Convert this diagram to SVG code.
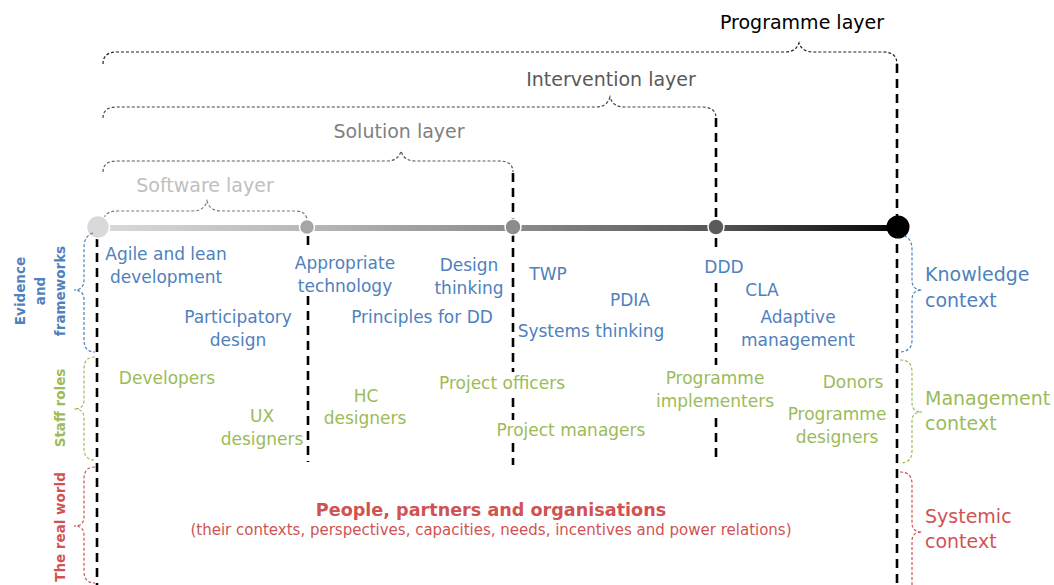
<svg xmlns="http://www.w3.org/2000/svg" width="1054" height="585" viewBox="0 0 1054 585">
<style>
text{font-family:"DejaVu Sans","Liberation Sans",sans-serif}
.t{font-size:17px;text-anchor:middle}
.lay{font-size:19px;text-anchor:middle}
.side{font-size:19px}
.rot{font-size:13.5px;font-weight:bold;text-anchor:middle}
.blue{fill:#4f81bd}
.green{fill:#9bbb59}
.red{fill:#d05353}
.brace{fill:none;stroke-width:1.2;stroke-dasharray:3 2}
.vl{fill:none;stroke:#000;stroke-width:2.6;stroke-dasharray:9 6}
.bg{fill:#fff}
.dot{stroke:#fff;stroke-width:1.5}
</style>
<defs>
<linearGradient id="bar" gradientUnits="userSpaceOnUse" x1="98" y1="0" x2="898" y2="0">
<stop offset="0" stop-color="#dadada"/>
<stop offset="0.26" stop-color="#b8b8b8"/>
<stop offset="0.52" stop-color="#8c8c8c"/>
<stop offset="0.77" stop-color="#565656"/>
<stop offset="1" stop-color="#050505"/>
</linearGradient>
</defs>

<g id="layer-programme">
<path class="brace" stroke="#222" d="M 103 64 Q 103 52 117 52 L 785 52 C 792 52 797 49 799 43 C 801 49 806 52 813 52 L 883 52 Q 897 52 897 64"/>
<text class="lay" x="802" y="29" fill="#000">Programme layer</text>
</g>
<g id="layer-intervention">
<path class="brace" stroke="#444" d="M 103 118 Q 103 107 117 107 L 596 107 C 603 107 608 104 610 97 C 612 104 617 107 624 107 L 702 107 Q 716 107 716 118"/>
<text class="lay" x="611" y="86" fill="#595959">Intervention layer</text>
</g>
<g id="layer-solution">
<path class="brace" stroke="#5a5a5a" d="M 103 172 Q 103 161 117 161 L 387 161 C 394 161 399 158 401 151 C 403 158 408 161 415 161 L 499 161 Q 513 161 513 172"/>
<text class="lay" x="399" y="138" fill="#7f7f7f">Solution layer</text>
</g>
<g id="layer-software">
<path class="brace" stroke="#7a7a7a" d="M 104 218 Q 106 211 118 211 L 193 211 C 200 211 205 208 207 201 C 209 208 214 211 221 211 L 296 211 Q 305 211 307 219"/>
<text class="lay" x="205" y="192" fill="#bfbfbf">Software layer</text>
</g>

<g id="connectors">
<line class="vl" x1="97" y1="238" x2="97" y2="585"/>
<line class="vl" x1="308" y1="236" x2="308" y2="462"/>
<line class="vl" x1="513" y1="173" x2="513" y2="465"/>
<line class="vl" x1="716" y1="118" x2="716" y2="462"/>
<line class="vl" x1="897" y1="64" x2="897" y2="585"/>
</g>

<g id="timeline">
<line x1="98" y1="228" x2="898" y2="228" stroke="url(#bar)" stroke-width="6"/>
<circle class="dot" cx="98" cy="227" r="11.5" fill="#d9d9d9"/>
<circle class="dot" cx="307" cy="227" r="7.5" fill="#a6a6a6"/>
<circle class="dot" cx="513" cy="227" r="8" fill="#8c8c8c"/>
<circle class="dot" cx="716" cy="227" r="8" fill="#5a5a5a"/>
<circle cx="898" cy="227" r="11.5" fill="#000"/>
</g>

<g id="left-evidence">
<path class="brace" stroke="#4f81bd" d="M 93 233 Q 84 236 84 248 L 84 280 Q 84 290 74 290 Q 84 290 84 300 L 84 340 Q 84 352 95 352"/>
<text class="rot blue" transform="translate(25,291) rotate(-90)">Evidence</text>
<text class="rot blue" transform="translate(45,291) rotate(-90)">and</text>
<text class="rot blue" transform="translate(65,291) rotate(-90)">frameworks</text>
</g>
<g id="left-staff">
<path class="brace" stroke="#9bbb59" d="M 95 357 Q 84 357 84 369 L 84 400 Q 84 409 74 409 Q 84 409 84 418 L 84 448 Q 84 460 95 460"/>
<text class="rot green" transform="translate(65,408) rotate(-90)">Staff roles</text>
</g>
<g id="left-real">
<path class="brace" stroke="#d05353" d="M 95 467 Q 84 467 84 479 L 84 517 Q 84 526 74 526 Q 84 526 84 535 L 84 571 Q 84 583 95 583"/>
<text class="rot red" transform="translate(65,527) rotate(-90)">The real world</text>
</g>

<g id="right-knowledge">
<path class="brace" stroke="#4f81bd" d="M 904 236 Q 912 238 912 250 L 912 280 Q 912 290 922 290 Q 912 290 912 300 L 912 340 Q 912 352 899 352"/>
<text class="side blue" x="925" y="281">Knowledge</text>
<text class="side blue" x="925" y="307">context</text>
</g>
<g id="right-management">
<path class="brace" stroke="#9bbb59" d="M 900 360 Q 912 360 912 372 L 912 403 Q 912 412 922 412 Q 912 412 912 421 L 912 451 Q 912 463 900 463"/>
<text class="side green" x="925" y="405">Management</text>
<text class="side green" x="925" y="430">context</text>
</g>
<g id="right-systemic">
<path class="brace" stroke="#d05353" d="M 900 472 Q 912 472 912 484 L 912 523 Q 912 532 922 532 Q 912 532 912 541 L 912 585"/>
<text class="side red" x="925" y="523">Systemic</text>
<text class="side red" x="925" y="548">context</text>
</g>

<g id="frameworks">
<g id="agile"><text class="t blue" x="166" y="260">Agile and lean</text><text class="t blue" x="166" y="283">development</text></g>
<g id="participatory"><text class="t blue" x="238" y="323">Participatory</text><text class="t blue" x="238" y="346">design</text></g>
<g id="appropriate"><rect class="bg" x="293" y="250" width="106" height="46"/><text class="t blue" x="345" y="269">Appropriate</text><text class="t blue" x="345" y="292">technology</text></g>
<g id="design-thinking"><text class="t blue" x="469" y="271">Design</text><text class="t blue" x="469" y="294">thinking</text></g>
<g id="twp"><text class="t blue" x="548" y="280">TWP</text></g>
<g id="pdia"><text class="t blue" x="630" y="306">PDIA</text></g>
<g id="principles"><text class="t blue" x="422" y="323">Principles for DD</text></g>
<g id="systems"><text class="t blue" x="591" y="337">Systems thinking</text></g>
<g id="ddd"><rect class="bg" x="705" y="252" width="38" height="26"/><text class="t blue" x="724" y="273">DDD</text></g>
<g id="cla"><text class="t blue" x="762" y="296">CLA</text></g>
<g id="adaptive"><text class="t blue" x="798" y="323">Adaptive</text><text class="t blue" x="798" y="346">management</text></g>
</g>

<g id="roles">
<g id="developers"><text class="t green" x="167" y="384">Developers</text></g>
<g id="ux"><text class="t green" x="262" y="422">UX</text><text class="t green" x="262" y="445">designers</text></g>
<g id="hc"><text class="t green" x="366" y="402">HC</text><text class="t green" x="365" y="424">designers</text></g>
<g id="officers"><rect class="bg" x="434" y="372" width="136" height="22"/><text class="t green" x="502" y="389">Project officers</text></g>
<g id="managers"><rect class="bg" x="493" y="420" width="158" height="22"/><text class="t green" x="571" y="436">Project managers</text></g>
<g id="implementers"><rect class="bg" x="652" y="365" width="124" height="49"/><text class="t green" x="715" y="384">Programme</text><text class="t green" x="715" y="407">implementers</text></g>
<g id="donors"><text class="t green" x="853" y="388">Donors</text></g>
<g id="prog-designers"><text class="t green" x="837" y="420">Programme</text><text class="t green" x="837" y="443">designers</text></g>
</g>

<g id="people">
<text class="red" x="491" y="516" font-size="17.6" font-weight="bold" text-anchor="middle">People, partners and organisations</text>
<text class="red" x="491" y="535" font-size="15" text-anchor="middle">(their contexts, perspectives, capacities, needs, incentives and power relations)</text>
</g>
</svg>
